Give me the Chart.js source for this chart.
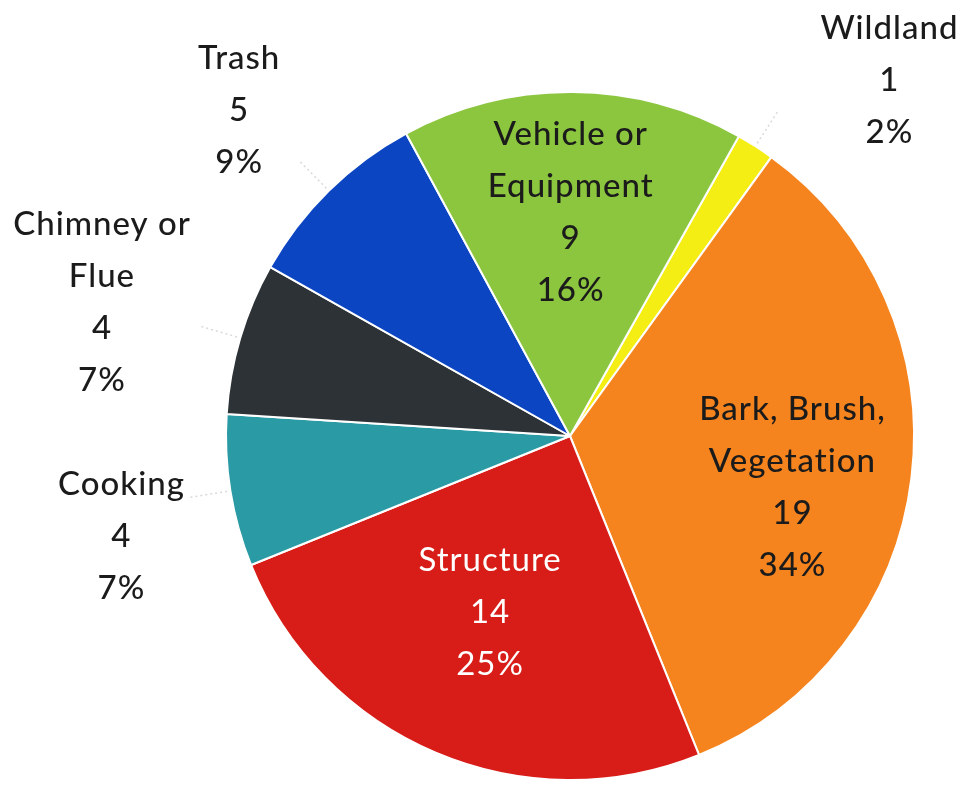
<!DOCTYPE html>
<html>
<head>
<meta charset="utf-8">
<script src="https://cdn.jsdelivr.net/npm/chart.js@4"></script>
<style>
  html, body { margin: 0; padding: 0; background: #fff; }
  #wrap { width: 965px; height: 787px; }
</style>
</head>
<body>
<div id="wrap"><canvas id="fireChart" width="965" height="787"></canvas></div>
<script>
// data, starting at the small yellow slice and going clockwise
const causes = ['Wildland', 'Bark, Brush, Vegetation', 'Structure', 'Cooking', 'Chimney or Flue', 'Trash', 'Vehicle or Equipment'];
const counts = [1, 19, 14, 4, 4, 5, 9];
const percents = ['2%', '34%', '25%', '7%', '7%', '9%', '16%'];
const labelLines = [['Wildland'], ['Bark, Brush,', 'Vegetation'], ['Structure'], ['Cooking'], ['Chimney or', 'Flue'], ['Trash'], ['Vehicle or', 'Equipment']];
const sliceColors = ['#f4ee14', '#f5841f', '#d81c17', '#2a9aa4', '#2d3236', '#0b45c2', '#8cc63f'];

// label placement: radius factor and angle shift (deg) from the slice middle
const labelRadius = [1.39, 0.664, 0.563, 1.336, 1.415, 1.35, 0.65];
const labelShift = [9.3, 6.2, 1.4, -3.4, -0.6, -0.9, -0.3];
const labelColor = ['#1b1b1b', '#1b1b1b', '#ffffff', '#1b1b1b', '#1b1b1b', '#1b1b1b', '#1b1b1b'];
const outside = [true, false, false, true, true, true, false];

const labelFont = '"Lato", "DejaVu Sans", sans-serif';

const sliceLabels = {
    id: 'sliceLabels',
    afterDatasetsDraw(chart) {
        const ctx = chart.ctx;
        const arcs = chart.getDatasetMeta(0).data;
        ctx.save();
        arcs.forEach(function(arc, i) {
            const p = arc.getProps(['x', 'y', 'startAngle', 'endAngle', 'outerRadius'], true);
            const mid = (p.startAngle + p.endAngle) / 2;
            const a = mid + labelShift[i] * Math.PI / 180;
            const r = p.outerRadius * labelRadius[i];
            const cx = p.x + Math.cos(a) * r;
            const cy = p.y + Math.sin(a) * r;

            // faint leader line for the outside labels
            if (outside[i]) {
                ctx.strokeStyle = 'rgba(170,170,170,0.45)';
                ctx.lineWidth = 1.5;
                ctx.setLineDash([2, 3]);
                ctx.beginPath();
                ctx.moveTo(p.x + Math.cos(mid) * p.outerRadius * 1.01, p.y + Math.sin(mid) * p.outerRadius * 1.01);
                ctx.lineTo(p.x + Math.cos(mid) * p.outerRadius * 1.12, p.y + Math.sin(mid) * p.outerRadius * 1.12);
                ctx.stroke();
                ctx.setLineDash([]);
            }

            const lines = labelLines[i].concat([String(counts[i]), percents[i]]);
            const lh = 52;
            const top = cy - (lines.length - 1) * lh / 2;
            ctx.fillStyle = labelColor[i];
            ctx.font = (labelColor[i] === '#ffffff' ? '400 ' : '500 ') + '33px ' + labelFont;
            ctx.letterSpacing = '1px';
            ctx.textAlign = 'center';
            ctx.textBaseline = 'middle';
            lines.forEach(function(t, k) {
                ctx.fillText(t, cx, top + k * lh);
            });
        });
        ctx.restore();
    }
};

document.addEventListener('DOMContentLoaded', function() {
    const ctx = document.getElementById('fireChart').getContext('2d');
    new Chart(ctx, {
        type: 'pie',
        data: {
            labels: causes,
            datasets: [{
                label: 'Fire incidents',
                data: counts,
                backgroundColor: sliceColors,
                borderColor: '#ffffff',
                borderWidth: 2
            }]
        },
        options: {
            responsive: false,
            animation: false,
            rotation: 29.4,
            layout: { padding: { top: 91, bottom: 6, left: 225, right: 50 } },
            plugins: {
                legend: { display: false },
                tooltip: { enabled: false }
            }
        },
        plugins: [sliceLabels]
    });
});
</script>
</body>
</html>
